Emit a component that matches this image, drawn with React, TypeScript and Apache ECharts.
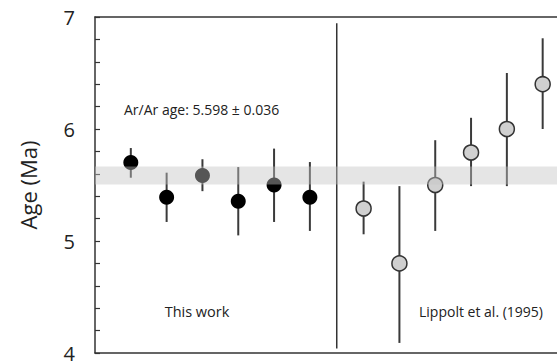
import React, { useEffect, useRef } from "react";
import * as echarts from "echarts";

const thisWorkX = [1, 2, 3, 4, 5, 6];
const thisWorkAge = [5.7, 5.39, 5.585, 5.355, 5.5, 5.39];
const thisWorkLow = [5.565, 5.17, 5.445, 5.05, 5.17, 5.09];
const thisWorkHigh = [5.83, 5.61, 5.73, 5.66, 5.825, 5.705];

const lippoltX = [7.5, 8.5, 9.5, 10.5, 11.5, 12.5];
const lippoltAge = [5.29, 4.8, 5.5, 5.79, 6.0, 6.4];
const lippoltLow = [5.06, 4.09, 5.09, 5.49, 5.49, 6.0];
const lippoltHigh = [5.53, 5.49, 5.9, 6.1, 6.5, 6.81];

const bandRange = [5.505, 5.665];
const dividerX = 6.75;
const dividerRange = [4.04, 6.945];

const xMin = 0;
const xMax = 12.9;
const yTicks = [4, 5, 6, 7];

const annotation = "Ar/Ar age: 5.598 ± 0.036";
const groupLabels = ["This work", "Lippolt et al. (1995)"];
const yTitle = "Age (Ma)";

const FONT = "'Open Sans', 'Noto Sans', sans-serif";

function vLine(color: string, width: number) {
  return (params: any, api: any) => {
    const p1 = api.coord([api.value(0), api.value(1)]);
    const p2 = api.coord([api.value(0), api.value(2)]);
    return {
      type: "line",
      shape: { x1: p1[0], y1: p1[1], x2: p2[0], y2: p2[1] },
      style: { stroke: color, lineWidth: width },
    };
  };
}

export default function App() {
  const ref = useRef<HTMLDivElement>(null);
  useEffect(() => {
    if (!ref.current) return;
    const chart = echarts.init(ref.current, undefined, { renderer: "svg" });
    const errData = [
      ...thisWorkX.map((x, i) => [x, thisWorkLow[i], thisWorkHigh[i]]),
      ...lippoltX.map((x, i) => [x, lippoltLow[i], lippoltHigh[i]]),
    ];
    const axisLineStyle = { color: "#333", width: 1.5 };
    chart.setOption({
      animation: false,
      grid: { left: 95, right: 0, top: 17, bottom: 10 },
      xAxis: [
        {
          type: "value",
          min: xMin,
          max: xMax,
          axisLine: { show: true, lineStyle: axisLineStyle },
          axisTick: { show: false },
          axisLabel: { show: false },
          splitLine: { show: false },
        },
        {
          type: "value",
          position: "top",
          min: xMin,
          max: xMax,
          axisLine: { show: true, onZero: false, lineStyle: axisLineStyle },
          axisTick: { show: false },
          axisLabel: { show: false },
          splitLine: { show: false },
        },
      ],
      yAxis: {
        type: "value",
        min: yTicks[0],
        max: yTicks[yTicks.length - 1],
        interval: 1,
        name: yTitle,
        nameLocation: "middle",
        nameGap: 56,
        nameTextStyle: { fontSize: 22, color: "#222", fontFamily: FONT },
        axisLine: { show: true, lineStyle: axisLineStyle },
        axisTick: { show: true, inside: true, length: 5, lineStyle: { color: "#333", width: 1.2 } },
        minorTick: { show: true, splitNumber: 5, length: 5, lineStyle: { color: "#333", width: 1.2 } },
        axisLabel: { fontSize: 20, color: "#222", margin: 20, fontFamily: FONT },
        splitLine: { show: false },
      },
      series: [
        {
          type: "custom",
          renderItem: vLine("#333", 1.5),
          data: [[dividerX, dividerRange[0], dividerRange[1]]],
          encode: { x: 0, y: [1, 2] },
          z: 1,
          silent: true,
        },
        {
          type: "custom",
          renderItem: vLine("#3a3a3a", 2),
          data: errData,
          encode: { x: 0, y: [1, 2] },
          z: 2,
          silent: true,
        },
        {
          type: "scatter",
          data: thisWorkX.map((x, i) => [x, thisWorkAge[i]]),
          symbol: "circle",
          symbolSize: 15,
          itemStyle: { color: "#000", opacity: 1 },
          z: 3,
        },
        {
          type: "scatter",
          data: lippoltX.map((x, i) => [x, lippoltAge[i]]),
          symbol: "circle",
          symbolSize: 15,
          itemStyle: { color: "#d0d0d0", borderColor: "#333", borderWidth: 1.5, opacity: 1 },
          z: 3,
        },
        {
          type: "custom",
          renderItem: (params: any, api: any) => {
            const p1 = api.coord([api.value(0), api.value(3)]);
            const p2 = api.coord([api.value(1), api.value(2)]);
            return {
              type: "rect",
              shape: { x: p1[0], y: p1[1], width: p2[0] - p1[0], height: p2[1] - p1[1] },
              style: { fill: "rgba(195,195,195,0.44)" },
            };
          },
          data: [[xMin, xMax, bandRange[0], bandRange[1]]],
          encode: { x: [0, 1], y: [2, 3] },
          z: 10,
          silent: true,
        },
      ],
      graphic: [
        {
          type: "text",
          x: 124,
          y: 109,
          style: { text: annotation, fontSize: 14, fill: "#222", fontFamily: FONT, textVerticalAlign: "middle" },
        },
        {
          type: "text",
          x: 197,
          y: 311,
          style: { text: groupLabels[0], fontSize: 14.5, fill: "#222", fontFamily: FONT, textAlign: "center", textVerticalAlign: "middle" },
        },
        {
          type: "text",
          x: 481,
          y: 311,
          style: { text: groupLabels[1], fontSize: 14, fill: "#222", fontFamily: FONT, textAlign: "center", textVerticalAlign: "middle" },
        },
      ],
    });
    return () => chart.dispose();
  }, []);
  return (
    <div
      ref={ref}
      style={{ position: "fixed", left: 0, top: 0, width: 557, height: 363, background: "#fff" }}
    />
  );
}
